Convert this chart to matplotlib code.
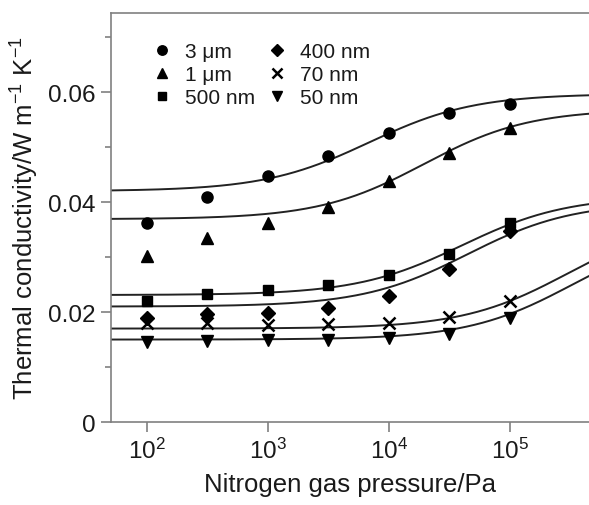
import numpy as np
import matplotlib
matplotlib.use('Agg')
import matplotlib.pyplot as plt
from matplotlib.ticker import FixedLocator, NullLocator, LogLocator

plt.rcParams['font.family'] = ['Liberation Sans', 'DejaVu Sans']
plt.rcParams['mathtext.fontset'] = 'custom'
plt.rcParams['mathtext.rm'] = 'Liberation Sans'
plt.rcParams['mathtext.it'] = 'Liberation Sans:italic'
plt.rcParams['mathtext.bf'] = 'Liberation Sans:bold'

# measured points (Pa, W/m/K)
pressure = [100, 316, 1000, 3162, 10000, 31623, 100000]
labels = ['3 μm', '1 μm', '500 nm', '400 nm', '70 nm', '50 nm']
k_3um = [0.0362, 0.0410, 0.0448, 0.0484, 0.0526, 0.0562, 0.0579]
k_1um = [0.0302, 0.0334, 0.0362, 0.0392, 0.0438, 0.0490, 0.0534]
k_500nm = [0.0220, 0.0232, 0.0240, 0.0250, 0.0267, 0.0305, 0.0362]
k_400nm = [0.0189, 0.0196, 0.0199, 0.0208, 0.0230, 0.0278, 0.0348]
k_70nm = [0.0181, 0.0180, 0.0177, 0.0178, 0.0181, 0.0191, 0.0221]
k_50nm = [0.0145, 0.0148, 0.0150, 0.0149, 0.0152, 0.0161, 0.0190]
series = [k_3um, k_1um, k_500nm, k_400nm, k_70nm, k_50nm]

# fitted curves: k = base + span / (1 + p_half / p)
fit_base = [0.0420, 0.0369, 0.0231, 0.0210, 0.0170, 0.0150]
fit_span = [0.0177, 0.0200, 0.0180, 0.0190, 0.0200, 0.0200]
fit_phalf = [6860, 19400, 40000, 44600, 3.0e5, 3.3e5]

markers = ['o', '^', 's', 'D', 'x', 'v']
msizes = [8, 8.5, 7.5, 7, 8.5, 8.5]

fig = plt.figure(figsize=(5.89, 5.06), dpi=100)
ax = fig.add_axes([0.1885, 0.164, 0.8115, 0.8083])

p = np.logspace(np.log10(50), np.log10(4.6e5), 300)
for b, a, ph in zip(fit_base, fit_span, fit_phalf):
    ax.plot(p, b + a / (1 + ph / p), color='#222222', lw=1.4, zorder=2)

for lab, vals, m, ms in zip(labels, series, markers, msizes):
    ax.plot(pressure, vals, linestyle='none', marker=m, ms=ms, color='black',
            mew=1.8 if m == 'x' else 1.0, label=lab, zorder=3)

ax.set_xscale('log')
ax.set_xlim(50.7, 4.52e5)
ax.set_ylim(0, 0.0744)
ax.xaxis.set_major_locator(LogLocator(base=10, numticks=10))
ax.xaxis.set_minor_locator(NullLocator())
ax.yaxis.set_major_locator(FixedLocator([0, 0.02, 0.04, 0.06]))
ax.yaxis.set_minor_locator(FixedLocator([0.01, 0.03, 0.05, 0.07]))
ax.set_yticklabels(['0', '0.02', '0.04', '0.06'])

for s in ['left', 'bottom', 'top']:
    ax.spines[s].set_color('#808080')
    ax.spines[s].set_linewidth(1.2)
ax.spines['right'].set_visible(False)
ax.tick_params(which='major', length=7, width=1.2, color='#808080',
               labelsize=17.5, labelcolor='#1a1a1a', pad=4)
ax.tick_params(which='minor', length=4.5, width=1.2, color='#808080')

ax.set_xlabel('Nitrogen gas pressure/Pa', fontsize=18.5, color='#1a1a1a', labelpad=7)
ax.set_ylabel('Thermal conductivity/W m$^{-1}$ K$^{-1}$', fontsize=18.5,
              color='#1a1a1a', labelpad=5)

leg = ax.legend(ncol=2, loc='upper left', bbox_to_anchor=(0.045, 0.975),
                frameon=False, fontsize=15, handlelength=1.0,
                handletextpad=0.6, columnspacing=0.55, labelspacing=0.2,
                markerscale=0.85)
for t in leg.get_texts():
    t.set_color('#1a1a1a')

fig.savefig('out.png', dpi=100)
